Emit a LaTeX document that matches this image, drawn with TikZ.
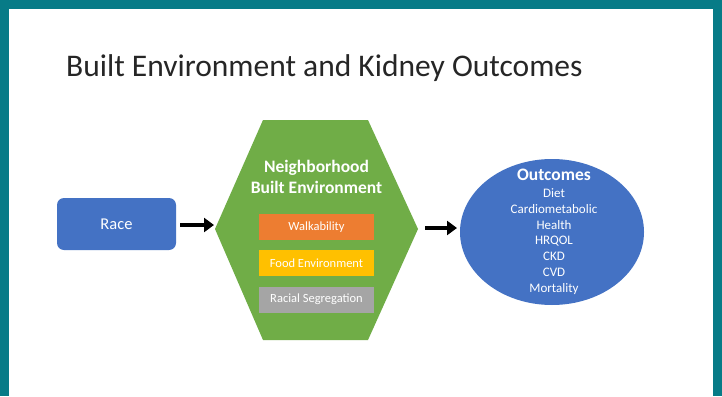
\documentclass[tikz,border=0pt]{standalone}
\usepackage{fontspec}
\setmainfont{Carlito}
\usetikzlibrary{arrows.meta,shapes.geometric}
\definecolor{teal1}{HTML}{077B87}
\definecolor{obl}{HTML}{4472C4}
\definecolor{ogr}{HTML}{70AD47}
\definecolor{oor}{HTML}{ED7D31}
\definecolor{oye}{HTML}{FFC000}
\definecolor{oga}{HTML}{A5A5A5}
\tikzset{
  sub/.style={minimum width=115pt, minimum height=26pt, inner sep=0pt, text=white, font=\fontsize{12.5}{14}\selectfont},
  bigarrow/.style={line width=4.5pt, -{Triangle[length=10pt,width=14pt]}},
  olines/.style={text=white, font=\fontsize{13}{15.8}\selectfont, align=center}
}
\begin{document}
\begin{tikzpicture}[x=1pt,y=-1pt]
\useasboundingbox (0,0) rectangle (722,396);
\fill[teal1] (0,0) rectangle (722,396);
\fill[white] (9,9) rectangle (713,396);
\node[anchor=base west, inner sep=0pt, font=\fontsize{31.5}{38}\selectfont, text=black!85] (title) at (66,77) {Built Environment and Kidney Outcomes};
% Race
\node[fill=obl, rounded corners=7pt, minimum width=119pt, minimum height=52pt, inner sep=0pt, text=white, font=\fontsize{16.5}{18}\selectfont] (race) at (116.5,224) {Race};
% hexagon
\coordinate (hexL) at (215,229);
\coordinate (hexR) at (418,229);
\fill[ogr] (hexL) -- (263,120) -- (368,120) -- (hexR) -- (368,340) -- (263,340) -- cycle;
\node[text=white, font=\bfseries\fontsize{17.5}{21}\selectfont, align=center] (nbe) at (316.5,177) {Neighborhood\\Built Environment};
\node[sub, fill=oor] (walk) at (316.5,227) {Walkability};
\node[sub, fill=oye] (food) at (316.5,263) {Food Environment};
\node[sub, fill=oga] (seg) at (316.5,299.5) {Racial Segregation};
% outcomes
\node[ellipse, fill=obl, minimum width=184pt, minimum height=146pt, inner sep=0pt] (out) at (552,232) {};
\node[text=white, font=\bfseries\fontsize{17.5}{18}\selectfont] (otitle) at (554,175) {Outcomes};
\node[olines, anchor=north] (olist) at (554,185) {Diet\\Cardiometabolic\\Health\\HRQOL\\CKD\\CVD\\Mortality};
% arrows
\coordinate (a1s) at (180,225);
\coordinate (a1e) at (214,225);
\coordinate (a2s) at (425,228);
\coordinate (a2e) at (457,228);
\draw[bigarrow] (a1s) -- (a1e);
\draw[bigarrow] (a2s) -- (a2e);
\end{tikzpicture}
\end{document}
